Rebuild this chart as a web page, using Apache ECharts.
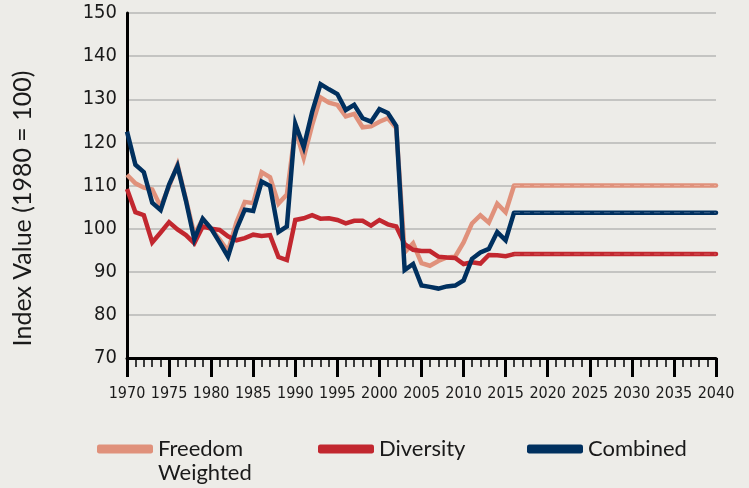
<!DOCTYPE html>
<html><head><meta charset="utf-8">
<script src="https://cdn.jsdelivr.net/npm/echarts@6/dist/echarts.min.js"></script>
<style>html,body{margin:0;padding:0;background:#EDECE8;}#c{width:749px;height:488px;}</style>
</head><body><div id="c"></div>
<script>
const years = [1970,1971,1972,1973,1974,1975,1976,1977,1978,1979,1980,1981,1982,1983,1984,1985,1986,1987,1988,1989,1990,1991,1992,1993,1994,1995,1996,1997,1998,1999,2000,2001,2002,2003,2004,2005,2006,2007,2008,2009,2010,2011,2012,2013,2014,2015,2016];
const freedom = [112.5,110.5,109.5,109.1,105.1,109.8,114.8,106.8,98.7,102.2,100,97.5,94.8,101.4,106.2,105.9,113.1,111.9,105.8,107.9,123.0,116.4,124.0,130.4,129.2,128.7,126.0,126.6,123.5,123.7,124.8,125.6,123.3,94.5,96.6,92.0,91.4,92.5,93.3,93.5,96.8,101.2,103.1,101.4,105.8,103.8,110.0];
const diversity = [109.2,103.8,103.1,96.8,99.1,101.5,99.8,98.5,96.6,100.5,100,99.7,98.2,97.3,97.8,98.6,98.3,98.5,93.4,92.7,102.0,102.4,103.1,102.3,102.4,102.0,101.2,101.8,101.8,100.7,102.0,101.0,100.5,96.4,95.1,94.8,94.8,93.5,93.3,93.2,91.8,92.2,91.9,93.9,93.8,93.6,94.1];
const combined = [122.5,114.8,113.1,106.0,104.3,110.2,114.5,106.5,97.5,102.3,100,96.8,93.5,99.8,104.4,104.1,110.9,109.9,99.2,100.5,124.3,118.9,127.0,133.5,132.3,131.2,127.5,128.7,125.6,124.8,127.7,126.8,123.8,90.4,91.8,86.8,86.5,86.1,86.6,86.8,88.0,93.0,94.5,95.3,99.2,97.3,103.7];
const projYears = [2016, 2040];
const projFreedom = [110.0, 110.0];
const projDiversity = [94.1, 94.1];
const projCombined = [103.7, 103.7];
const names = ['Freedom Weighted', 'Diversity', 'Combined'];
const colors = ['#E0917B', '#C2272F', '#00305F'];
const lightColors = ['#EAB1A1', '#D8666A', '#4A6A8E'];

const pairs = (xs, ys) => xs.map((x, i) => [x, ys[i]]);
const hist = [freedom, diversity, combined];
const proj = [projFreedom, projDiversity, projCombined];

const series = [];
hist.forEach((arr, i) => {
  series.push({name: names[i], type: 'line', data: pairs(years, arr), showSymbol: false, symbol: 'none',
    lineStyle: {color: colors[i], width: 4.5, join: 'miter'}, itemStyle: {color: colors[i]}, z: 3 + i});
  series.push({name: names[i], type: 'line', data: pairs(projYears, proj[i]), showSymbol: false, symbol: 'none',
    lineStyle: {color: colors[i], width: 4.5, cap: 'round'}, itemStyle: {color: colors[i]}, z: 3 + i});
  series.push({name: names[i] + ' proj', type: 'line', data: pairs(projYears, proj[i]), showSymbol: false, symbol: 'none',
    lineStyle: {color: lightColors[i], width: 1, type: [6, 4], opacity: 0.8}, z: 6 + i, silent: true});
});

const narrow = '"DejaVu Sans Condensed", Roboto, sans-serif';
const legendLeft = [97, 318, 527];
const legends = names.map((n, i) => ({
  data: [{name: n, icon: 'roundRect', itemStyle: {color: colors[i]}}],
  left: legendLeft[i], top: 413, padding: 0,
  itemWidth: 56, itemHeight: 9, itemGap: 6,
  formatter: (name) => name === 'Freedom Weighted' ? ' \nFreedom\nWeighted' : ' \n' + name + '\n ',
  textStyle: {fontFamily: 'Lato', fontSize: 22, color: '#1a1a1a', lineHeight: 24},
  selectedMode: false
}));

const chart = echarts.init(document.getElementById('c'));
chart.setOption({
  backgroundColor: '#EDECE8',
  animation: false,
  grid: {left: 127, right: 33, top: 13, bottom: 130, containLabel: false},
  legend: legends,
  xAxis: {
    type: 'value', min: 1970, max: 2040, interval: 5,
    axisLine: {show: true, lineStyle: {color: '#000', width: 3}},
    axisTick: {show: true, length: 19, lineStyle: {color: '#000', width: 3}},
    minorTick: {show: true, splitNumber: 5, length: 9, lineStyle: {color: '#000', width: 1.5}},
    splitLine: {show: false},
    axisLabel: {fontFamily: narrow, fontSize: 16, color: '#1a1a1a', margin: 28, formatter: v => String(v)}
  },
  yAxis: {
    type: 'value', min: 70, max: 150, interval: 10,
    name: 'Index Value (1980 = 100)', nameLocation: 'middle', nameRotate: 90, nameGap: 92,
    nameTextStyle: {fontFamily: 'Lato', fontSize: 25, color: '#1a1a1a', padding: [0, 46, 0, 0]},
    axisLine: {show: true, lineStyle: {color: '#000', width: 3}},
    axisTick: {show: false},
    splitLine: {show: true, lineStyle: {color: '#C4C4C2', width: 2}},
    axisLabel: {fontFamily: narrow, fontSize: 20, color: '#1a1a1a', margin: 10}
  },
  series: series
});
</script></body></html>
